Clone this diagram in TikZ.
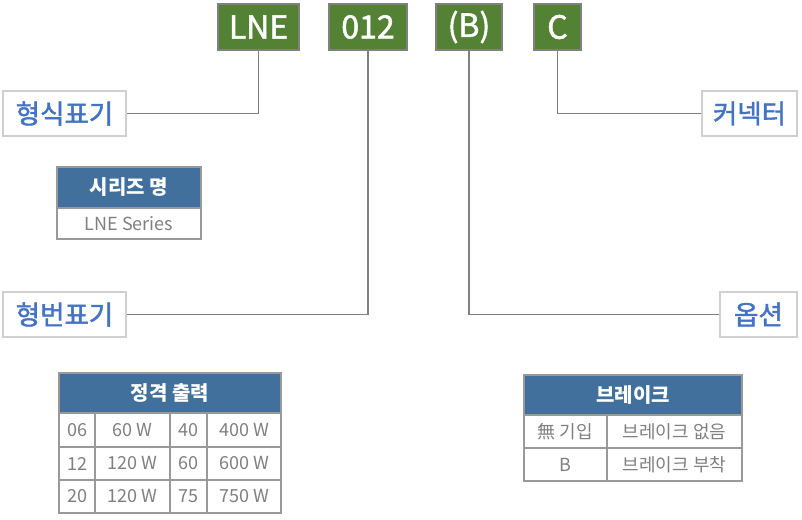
\documentclass[tikz,border=0pt]{standalone}
\usepackage{fontspec}
\setmainfont{Noto Sans CJK KR}
\newfontfamily\medfont[FakeBold=1.6]{Noto Sans CJK KR}
\definecolor{gbox}{HTML}{548235}
\definecolor{hdr}{HTML}{41709C}
\definecolor{lblue}{HTML}{4472C4}
\definecolor{txtgrey}{HTML}{808080}
\definecolor{lineg}{HTML}{808080}
\definecolor{cellb}{HTML}{999999}
\definecolor{lblb}{HTML}{D0D0D0}
\begin{document}
\begin{tikzpicture}[x=1pt,y=-1pt,
  codebox/.style={draw=lineg,line width=1.5pt,fill=gbox,text=white,inner sep=0pt,
    minimum height=46pt,font=\medfont\fontsize{32}{36}\selectfont},
  lblbox/.style={draw=lblb,line width=1.2pt,fill=white,text=lblue,inner sep=0pt,
    minimum height=45pt,font=\medfont\fontsize{26.5}{30}\selectfont},
  hdrcell/.style={draw=cellb,line width=1.2pt,fill=hdr,text=white,inner sep=0pt,
    font=\fontsize{20}{22}\selectfont\bfseries},
  cell/.style={draw=cellb,line width=1.2pt,fill=white,text=txtgrey,inner sep=0pt,
    font=\fontsize{18}{20}\selectfont},
  conn/.style={draw=lineg,line width=1.5pt}]
\useasboundingbox (0,0) rectangle (802,519);
% code boxes
\node[codebox,minimum width=81pt] (lne) at (258.5,27) {LNE};
\node[codebox,minimum width=78pt] (num) at (368,27) {012};
\node[codebox,minimum width=66pt] (opt) at (469,27) {(B)};
\node[codebox,minimum width=47pt] (con) at (557.5,27) {C};
% labels
\node[lblbox,minimum width=123pt] (hs) at (64.5,113.5) {형식표기};
\node[lblbox,minimum width=95pt] (cn) at (749.5,113.5) {커넥터};
\node[lblbox,minimum width=123pt] (hb) at (64.5,314.5) {형번표기};
\node[lblbox,minimum width=77pt] (op) at (758.5,314.5) {옵션};
% connectors
\draw[conn] (lne.south) |- (hs.east);
\draw[conn] (num.south) |- (hb.east);
\draw[conn] (opt.south) |- (op.west);
\draw[conn] (con.south) |- (cn.west);
% series table
\node[hdrcell,minimum width=144pt,minimum height=41pt] (sh) at (129,187.5) {시리즈 명};
\node[cell,minimum width=144pt,minimum height=31pt] (sb) at (129,223.5) {LNE Series};
% rating table
\node[hdrcell,minimum width=222pt,minimum height=40pt] (rh) at (170,393) {정격 출력};
\node[cell,minimum width=36pt,minimum height=34pt] (r11) at (77,430) {06};
\node[cell,minimum width=75pt,minimum height=34pt] (r12) at (132.5,430) {60 W};
\node[cell,minimum width=37pt,minimum height=34pt] (r13) at (188.5,430) {40};
\node[cell,minimum width=74pt,minimum height=34pt] (r14) at (244,430) {400 W};
\node[cell,minimum width=36pt,minimum height=33pt] (r21) at (77,463.5) {12};
\node[cell,minimum width=75pt,minimum height=33pt] (r22) at (132.5,463.5) {120 W};
\node[cell,minimum width=37pt,minimum height=33pt] (r23) at (188.5,463.5) {60};
\node[cell,minimum width=74pt,minimum height=33pt] (r24) at (244,463.5) {600 W};
\node[cell,minimum width=36pt,minimum height=33pt] (r31) at (77,496.5) {20};
\node[cell,minimum width=75pt,minimum height=33pt] (r32) at (132.5,496.5) {120 W};
\node[cell,minimum width=37pt,minimum height=33pt] (r33) at (188.5,496.5) {75};
\node[cell,minimum width=74pt,minimum height=33pt] (r34) at (244,496.5) {750 W};
% brake table
\node[hdrcell,minimum width=218pt,minimum height=40pt] (bh) at (633,395) {브레이크};
\node[cell,minimum width=83pt,minimum height=33pt] (b11) at (565.5,431.5) {無 기입};
\node[cell,minimum width=135pt,minimum height=33pt] (b12) at (674.5,431.5) {브레이크 없음};
\node[cell,minimum width=83pt,minimum height=33pt] (b21) at (565.5,464.5) {B};
\node[cell,minimum width=135pt,minimum height=33pt] (b22) at (674.5,464.5) {브레이크 부착};
\end{tikzpicture}
\end{document}
